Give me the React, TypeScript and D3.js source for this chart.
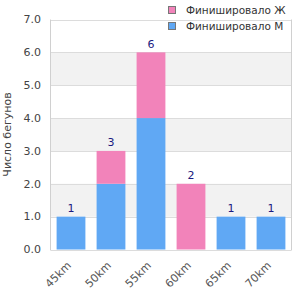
import * as d3 from "d3";
import React from "react";

const categories = ["45km", "50km", "55km", "60km", "65km", "70km"];
const finishedM = [1, 2, 4, 0, 1, 1];
const finishedF = [0, 1, 2, 2, 0, 0];
const yTicks = [0, 1, 2, 3, 4, 5, 6, 7];

const W = 300;
const H = 300;
const left = 51;
const right = 291;
const top = 19.5;
const bottom = 249.5;
const font = "DejaVu Sans, sans-serif";

export default function App() {
  const x = d3.scaleBand().domain(categories).range([left, right]).paddingInner(0.28).paddingOuter(0.14);
  const y = d3.scaleLinear().domain([0, 7]).range([bottom, top]);
  const totals = categories.map((_, i) => finishedM[i] + finishedF[i]);

  return (
    <svg width={W} height={H} style={{ position: "absolute", left: 0, top: 0 }} fontFamily={font}>
      <rect width={W} height={H} fill="#fff" />
      {/* alternating bands */}
      {[1, 3, 5].map((v) => (
        <rect key={v} x={left} y={y(v + 1)} width={right - left} height={y(v) - y(v + 1)} fill="#f2f2f2" />
      ))}
      {yTicks.map((t) => (
        <line key={t} x1={left} x2={right} y1={Math.round(y(t)) + 0.5} y2={Math.round(y(t)) + 0.5} stroke="#dcdcdc" />
      ))}
      <line x1={left - 0.5} x2={left - 0.5} y1={top} y2={bottom + 1} stroke="#d0d0d0" />
      <line x1={right + 0.5} x2={right + 0.5} y1={top} y2={bottom + 1} stroke="#d0d0d0" />
      {yTicks.map((t) => (
        <text key={t} x={41} y={y(t)} dy="0.35em" textAnchor="end" fontSize={11} fill="#444">
          {t.toFixed(1)}
        </text>
      ))}
      <text transform={`translate(11,${(top + bottom) / 2}) rotate(-90)`} textAnchor="middle" fontSize={11} fill="#444">
        Число бегунов
      </text>
      {categories.map((c, i) => (
        <g key={c}>
          <rect x={x(c)} y={y(finishedM[i])} width={x.bandwidth()} height={y(0) - y(finishedM[i])} fill="#60a8f4" />
          <rect
            x={x(c)}
            y={y(finishedM[i] + finishedF[i])}
            width={x.bandwidth()}
            height={y(finishedM[i]) - y(finishedM[i] + finishedF[i])}
            fill="#f283ba"
          />
          <text x={(x(c) as number) + x.bandwidth() / 2} y={y(totals[i]) - 4.5} textAnchor="middle" fontSize={11} fill="#1a1a80">
            {totals[i]}
          </text>
          <text
            transform={`translate(${(x(c) as number) + x.bandwidth() / 2 - 2},${bottom + 14}) rotate(-45)`}
            textAnchor="end"
            dy="0.35em"
            fontSize={11}
            fill="#555"
          >
            {c}
          </text>
        </g>
      ))}
      {[
        { label: "Финишировало Ж", color: "#f283ba" },
        { label: "Финишировало М", color: "#60a8f4" },
      ].map((d, i) => (
        <g key={d.label} transform={`translate(168,${6 + i * 16})`}>
          <rect x={0.5} y={0.5} width={7} height={7} fill={d.color} stroke="#777" />
          <text x={18} y={4} dy="0.35em" fontSize={10.5} fill="#333">
            {d.label}
          </text>
        </g>
      ))}
    </svg>
  );
}
